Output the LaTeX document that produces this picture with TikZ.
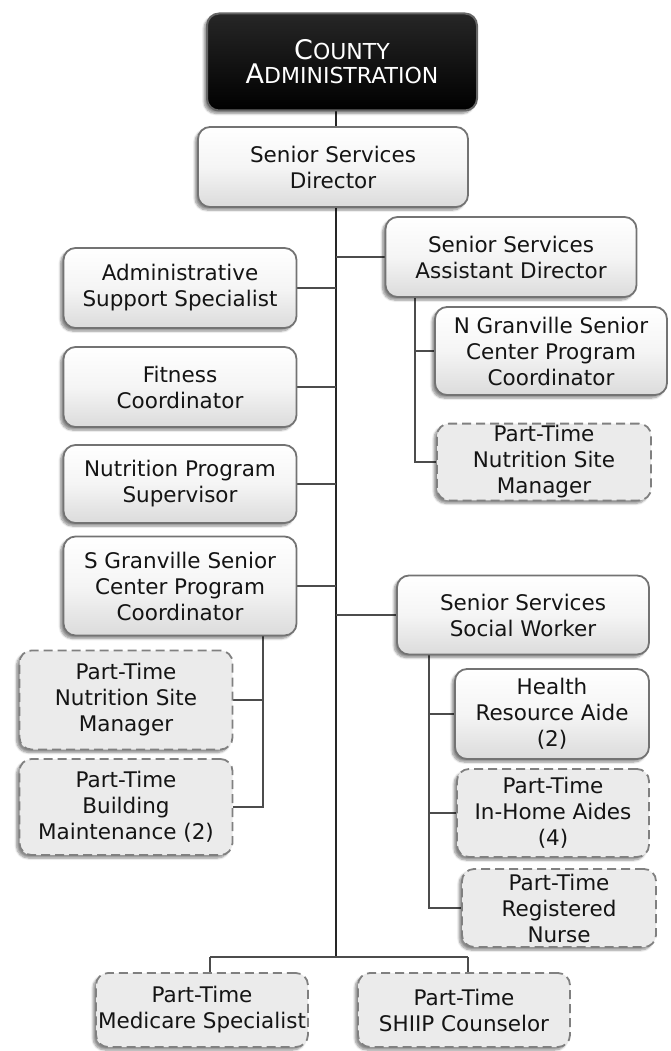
\documentclass[tikz,border=0pt]{standalone}
\usepackage{fontspec}
\setmainfont{DejaVu Sans}
\usetikzlibrary{shadows.blur,backgrounds}

\tikzset{
  box/.style={rounded corners=12pt, line width=1.8pt, draw=black!55,
    align=center, inner sep=2pt, font=\fontsize{21.5}{26}\selectfont,
    text=black!92,
    blur shadow={shadow xshift=-3pt, shadow yshift=-3pt, shadow blur steps=6, shadow opacity=45}},
  solidbox/.style={box, top color=white, bottom color=black!14, middle color=black!4},
  ptbox/.style={box, fill=black!8, dash pattern=on 9pt off 5pt, draw=black!50},
  topbox/.style={rounded corners=12pt, line width=2pt, draw=black!60,
    top color=black!85, bottom color=black, text=white, align=center,
    blur shadow={shadow xshift=-3pt, shadow yshift=-3pt, shadow blur steps=6, shadow opacity=45}},
  spineline/.style={line width=2.6pt, draw=black!85},
  subline/.style={line width=2pt, draw=black!70},
  tie/.style={line width=1.4pt, draw=black!70},
}
\newcommand{\capsc}[2]{{\fontsize{27}{32}\selectfont #1}{\fontsize{22}{32}\selectfont #2}}

\begin{document}
\begin{tikzpicture}[x=1pt, y=-1pt]
\useasboundingbox (0,0) rectangle (671,1051);

% head of the chart
\node[topbox, minimum width=270pt, minimum height=97pt] (county) at (342,62)
  {\capsc{C}{OUNTY}\\[3pt]\capsc{A}{DMINISTRATION}};

% positions of the vertical trunk, bottom bus and branch lines
\coordinate (spine) at (336,0);
\coordinate (bus) at (336,957);
\coordinate (busL) at (210,957);
\coordinate (busR) at (468,957);
\coordinate (asub) at (415,0);
\coordinate (ssub) at (263,0);
\coordinate (wsub) at (429,0);

\node[solidbox, minimum width=270pt, minimum height=80pt] (dir) at (333,167) {Senior Services\\Director};

\node[solidbox, minimum width=251pt, minimum height=80pt] (asst) at (511,257) {Senior Services\\Assistant Director};
\node[solidbox, minimum width=232pt, minimum height=88pt] (ngran) at (551,351) {N Granville Senior\\Center Program\\Coordinator};
\node[ptbox, minimum width=214pt, minimum height=76pt] (ntrR) at (544,462) {Part-Time\\Nutrition Site\\Manager};

\node[solidbox, minimum width=233pt, minimum height=80pt] (admin) at (180,288) {Administrative\\Support Specialist};
\node[solidbox, minimum width=233pt, minimum height=80pt] (fit) at (180,387) {Fitness\\Coordinator};
\node[solidbox, minimum width=233pt, minimum height=78pt] (nutr) at (180,484) {Nutrition Program\\Supervisor};
\node[solidbox, minimum width=233pt, minimum height=99pt] (sgran) at (180,586) {S Granville Senior\\Center Program\\Coordinator};
\node[ptbox, minimum width=213pt, minimum height=99pt] (ntrL) at (126,700) {Part-Time\\Nutrition Site\\Manager};
\node[ptbox, minimum width=213pt, minimum height=96pt] (bldg) at (126,807) {Part-Time\\Building\\Maintenance (2)};

\node[solidbox, minimum width=252pt, minimum height=79pt] (social) at (523,615) {Senior Services\\Social Worker};
\node[solidbox, minimum width=194pt, minimum height=90pt] (health) at (552,714) {Health\\Resource Aide\\(2)};
\node[ptbox, minimum width=192pt, minimum height=88pt] (inhome) at (553,813) {Part-Time\\In-Home Aides\\(4)};
\node[ptbox, minimum width=194pt, minimum height=78pt] (nurse) at (559,908) {Part-Time\\Registered\\Nurse};

\node[ptbox, minimum width=211pt, minimum height=74pt] (medi) at (202,1010) {Part-Time\\Medicare Specialist};
\node[ptbox, minimum width=212pt, minimum height=74pt] (shiip) at (464,1010) {Part-Time\\SHIIP Counselor};

% connectors, kept behind the boxes
\begin{pgfonlayer}{background}
\draw[spineline] (spine |- county.south) -- (bus);
\draw[tie] (busL) -- (busR);
\draw[tie] (busL) -- (busL |- medi.north);
\draw[tie] (busR) -- (busR |- shiip.north);

\draw[tie] (asst.west) -- (asst.west -| spine);
\draw[tie] (admin.east) -- (admin.east -| spine);
\draw[tie] (fit.east) -- (fit.east -| spine);
\draw[tie] (nutr.east) -- (nutr.east -| spine);
\draw[tie] (sgran.east) -- (sgran.east -| spine);
\draw[tie] (social.west) -- (social.west -| spine);

\draw[subline] (asub |- asst.south) -- (asub |- ntrR.west) -- (ntrR.west);
\draw[tie] (ngran.west) -- (ngran.west -| asub);

\draw[subline] (ssub |- sgran.south) -- (ssub |- bldg.east) -- (bldg.east);
\draw[tie] (ntrL.east) -- (ntrL.east -| ssub);

\draw[subline] (wsub |- social.south) -- (wsub |- nurse.west) -- (nurse.west);
\draw[tie] (health.west) -- (health.west -| wsub);
\draw[tie] (inhome.west) -- (inhome.west -| wsub);
\end{pgfonlayer}
\end{tikzpicture}
\end{document}
